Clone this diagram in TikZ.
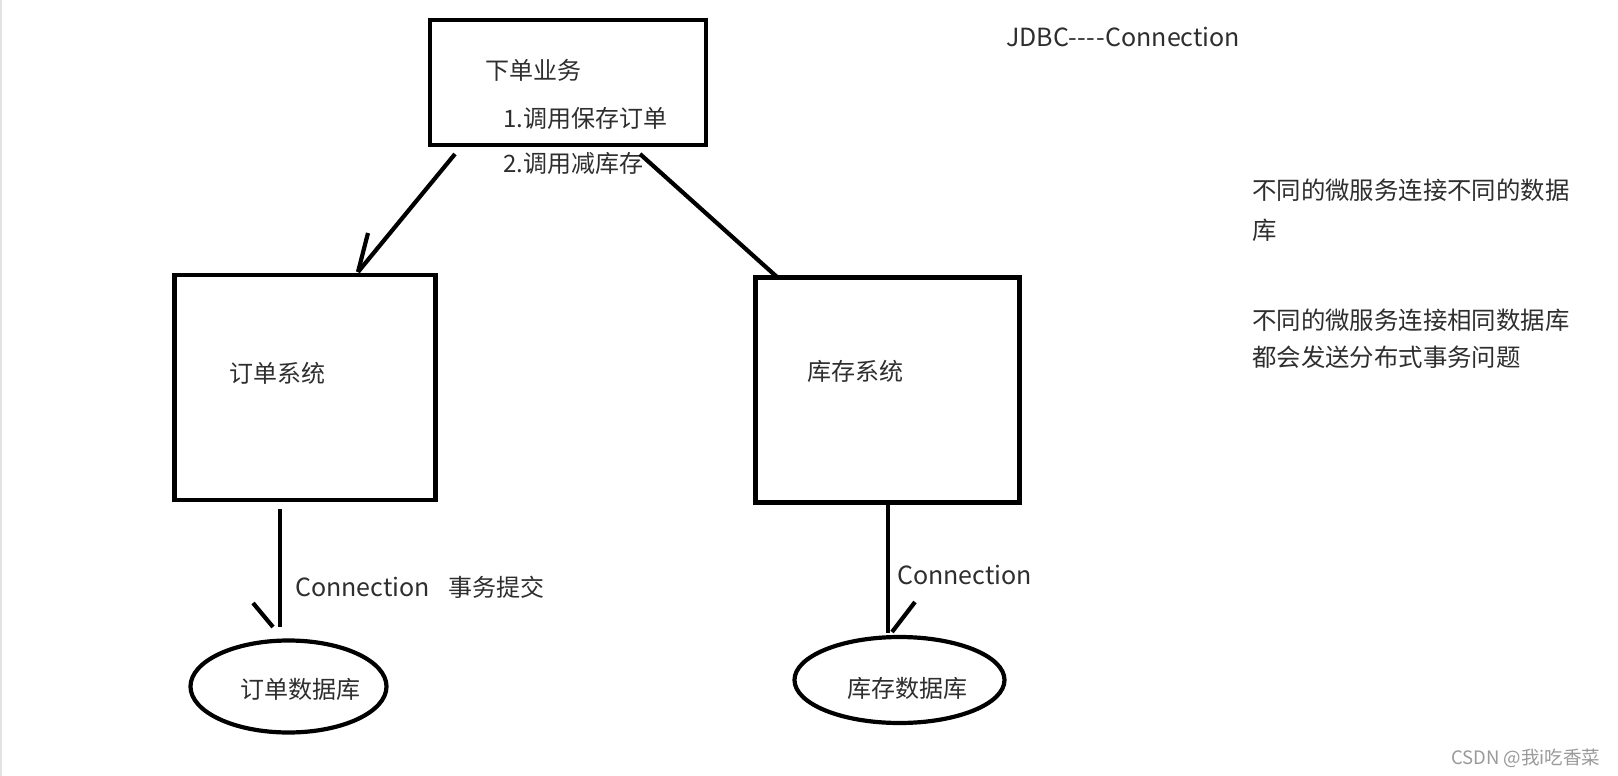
\documentclass[tikz,border=0pt]{standalone}
\usepackage{fontspec}
\setmainfont{Noto Sans CJK SC}
\usetikzlibrary{shapes.geometric}
\definecolor{txtcol}{HTML}{2E2E2E}
\definecolor{markcol}{HTML}{9A9A9A}
\definecolor{edgecol}{HTML}{E2E2E2}
\newcommand{\hy}{-\kern0.6pt}
\begin{document}
\begin{tikzpicture}[x=1pt,y=-1pt,
  box/.style={draw=black, line width=4.6pt, rectangle, inner sep=0pt, fill=white},
  db/.style={draw=black, line width=4.2pt, ellipse, inner sep=0pt, fill=white},
  conn/.style={draw=black, line width=4.2pt},
  txt/.style={text=txtcol, inner sep=0pt, anchor=west, font=\fontsize{24}{24}\selectfont},
  lat/.style={text=txtcol, inner sep=0pt, anchor=west, font=\fontsize{25}{25}\selectfont},
  note/.style={text=txtcol, inner sep=0pt, anchor=west, font=\fontsize{24.4}{24.4}\selectfont},
  wm/.style={text=markcol, inner sep=0pt, anchor=west, font=\fontsize{18.5}{18.5}\selectfont}]
\useasboundingbox (0,0) rectangle (1618,776);
\fill[white] (0,0) rectangle (1618,776);
\draw[edgecol, line width=1.5pt] (0.75,0) -- (0.75,776);

% boxes
\node[box, minimum width=276pt, minimum height=125pt] (biz) at (568,82.5) {};
\node[box, minimum width=261pt, minimum height=225pt] (ordersys) at (305,387.5) {};
\node[box, minimum width=264pt, minimum height=224.5pt] (stocksys) at (887.5,390) {};

% databases
\node[db, minimum width=196pt, minimum height=92pt] (orderdb) at (288.5,686.5) {};
\node[db, minimum width=210pt, minimum height=86pt] (stockdb) at (899.5,680) {};

% texts in boxes
\node[txt] (bizt) at (485,70) {下单业务};
\node[txt] (call1) at (503,118) {1.调用保存订单};
\node[txt] (call2) at (503,163) {2.调用减库存};
\node[txt] (ordert) at (229,373.5) {订单系统};
\node[txt] (stockt) at (807,371.5) {库存系统};
\node[txt] (orderdbt) at (240,689) {订单数据库};
\node[txt] (stockdbt) at (847,688) {库存数据库};

% connector end points
\coordinate (a1) at (455,154);
\coordinate (a2) at (358,272);
\coordinate (a3) at (368,233);
\coordinate (b1) at (640,154);
\coordinate (b2) at (777,277);
\coordinate (c1) at (280,509);
\coordinate (c2) at (280,627);
\coordinate (c3) at (253,603);
\coordinate (c4) at (273,627);
\coordinate (d1) at (888,505);
\coordinate (d2) at (888,633);
\coordinate (d3) at (915,602);
\coordinate (d4) at (892,632);

\draw[conn] (a1) -- (a2);
\draw[conn] (a2) -- (a3);
\draw[conn] (b1) -- (b2);
\draw[conn] (c1) -- (c2);
\draw[conn] (c3) -- (c4);
\draw[conn] (d1) -- (d2);
\draw[conn] (d3) -- (d4);

% labels
\node[lat] (conn1) at (295,587) {Connection};
\node[txt] (commit) at (448,587) {事务提交};
\node[lat] (conn2) at (897,575) {Connection};
\node[lat] (jdbc) at (1006,37) {JDBC\hy\hy\hy\hy Connection};

% notes
\node[note] (n1) at (1252,190) {不同的微服务连接不同的数据};
\node[note] (n2) at (1252,230) {库};
\node[note] (n3) at (1252,320) {不同的微服务连接相同数据库};
\node[note] (n4) at (1252,357) {都会发送分布式事务问题};

\node[wm] (mark) at (1451,758) {CSDN @我i吃香菜};
\end{tikzpicture}
\end{document}
